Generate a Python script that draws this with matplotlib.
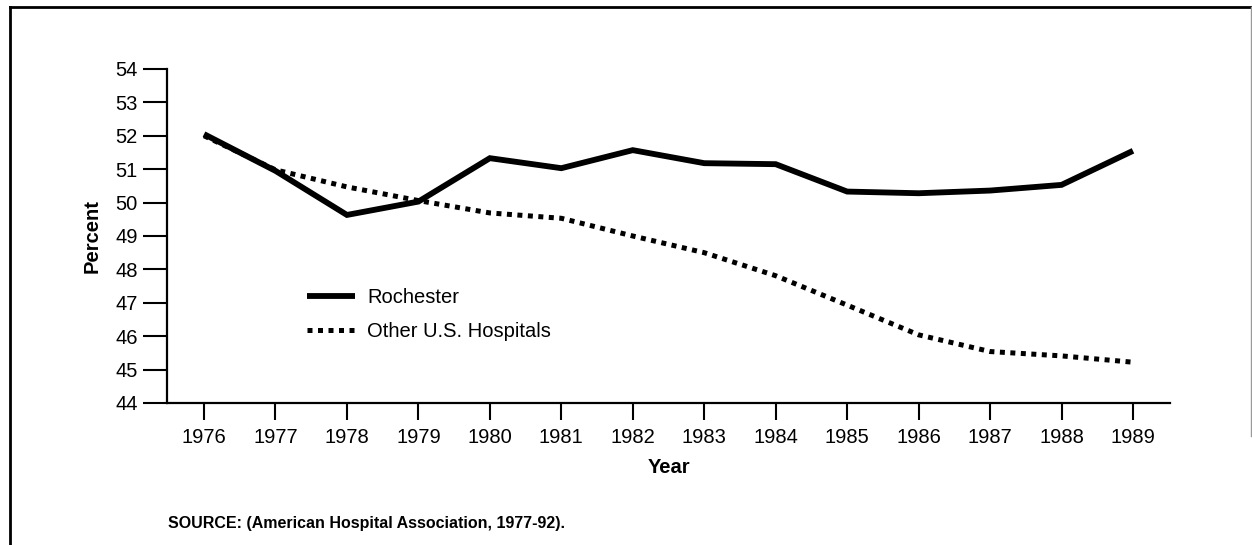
import matplotlib
matplotlib.use('Agg')
import matplotlib.pyplot as plt
from matplotlib.lines import Line2D

plt.rcParams.update({
    'font.family': 'Liberation Sans',
    'font.size': 14.5,
    'axes.linewidth': 1.6,
})

# data
years = [1976, 1977, 1978, 1979, 1980, 1981, 1982, 1983, 1984, 1985, 1986, 1987, 1988, 1989]
rochester = [52.05, 50.95, 49.63, 50.03, 51.33, 51.03, 51.57, 51.18, 51.15, 50.33, 50.28, 50.36, 50.53, 51.55]
other_us = [52.0, 50.98, 50.47, 50.06, 49.69, 49.53, 49.0, 48.5, 47.81, 46.93, 46.04, 45.54, 45.41, 45.22]
y_ticks = list(range(44, 55))

fig = plt.figure(figsize=(12.52, 5.45), dpi=100)
ax = fig.add_axes([0.1334, 0.2606, 0.8011, 0.6128])

ax.plot(years, rochester, color='black', linewidth=4.2, solid_capstyle='butt',
        solid_joinstyle='miter', label='Rochester')
ax.plot(years, other_us, color='black', linewidth=3.6, linestyle=(0, (1, 1.1)),
        dash_capstyle='butt', label='Other U.S. Hospitals')

ax.set_xlim(1975.482, 1989.518)
ax.set_ylim(44, 54)
ax.set_xticks(years)
ax.set_yticks(y_ticks)
ax.spines['top'].set_visible(False)
ax.spines['right'].set_visible(False)
ax.tick_params(axis='y', length=17, width=1.5, pad=4)
ax.tick_params(axis='x', length=12, width=1.5, pad=6)

ax.set_xlabel('Year', fontweight='bold', fontsize=14.5, labelpad=8)
ax.set_ylabel('Percent', fontweight='bold', fontsize=14.5, labelpad=10)

ax.legend(loc='center left', bbox_to_anchor=(0.2452, 0.4229),
          bbox_transform=fig.transFigure, frameon=False, fontsize=14.5,
          handlelength=2.4, handletextpad=0.6, labelspacing=0.7,
          borderpad=0, borderaxespad=0)

fig.text(0.134, 0.04, 'SOURCE: (American Hospital Association, 1977-92).',
         fontsize=11.5, fontweight='bold', va='center', ha='left')

# page frame from the scan
fig.add_artist(Line2D([0.008, 0.008], [0, 0.987], color='black', linewidth=2,
                      transform=fig.transFigure))
fig.add_artist(Line2D([0.008, 0.999], [0.987, 0.987], color='black', linewidth=2,
                      transform=fig.transFigure))
fig.add_artist(Line2D([0.999, 0.999], [0.2, 0.987], color='#999999', linewidth=1,
                      transform=fig.transFigure))

fig.savefig('out.png', dpi=100)
